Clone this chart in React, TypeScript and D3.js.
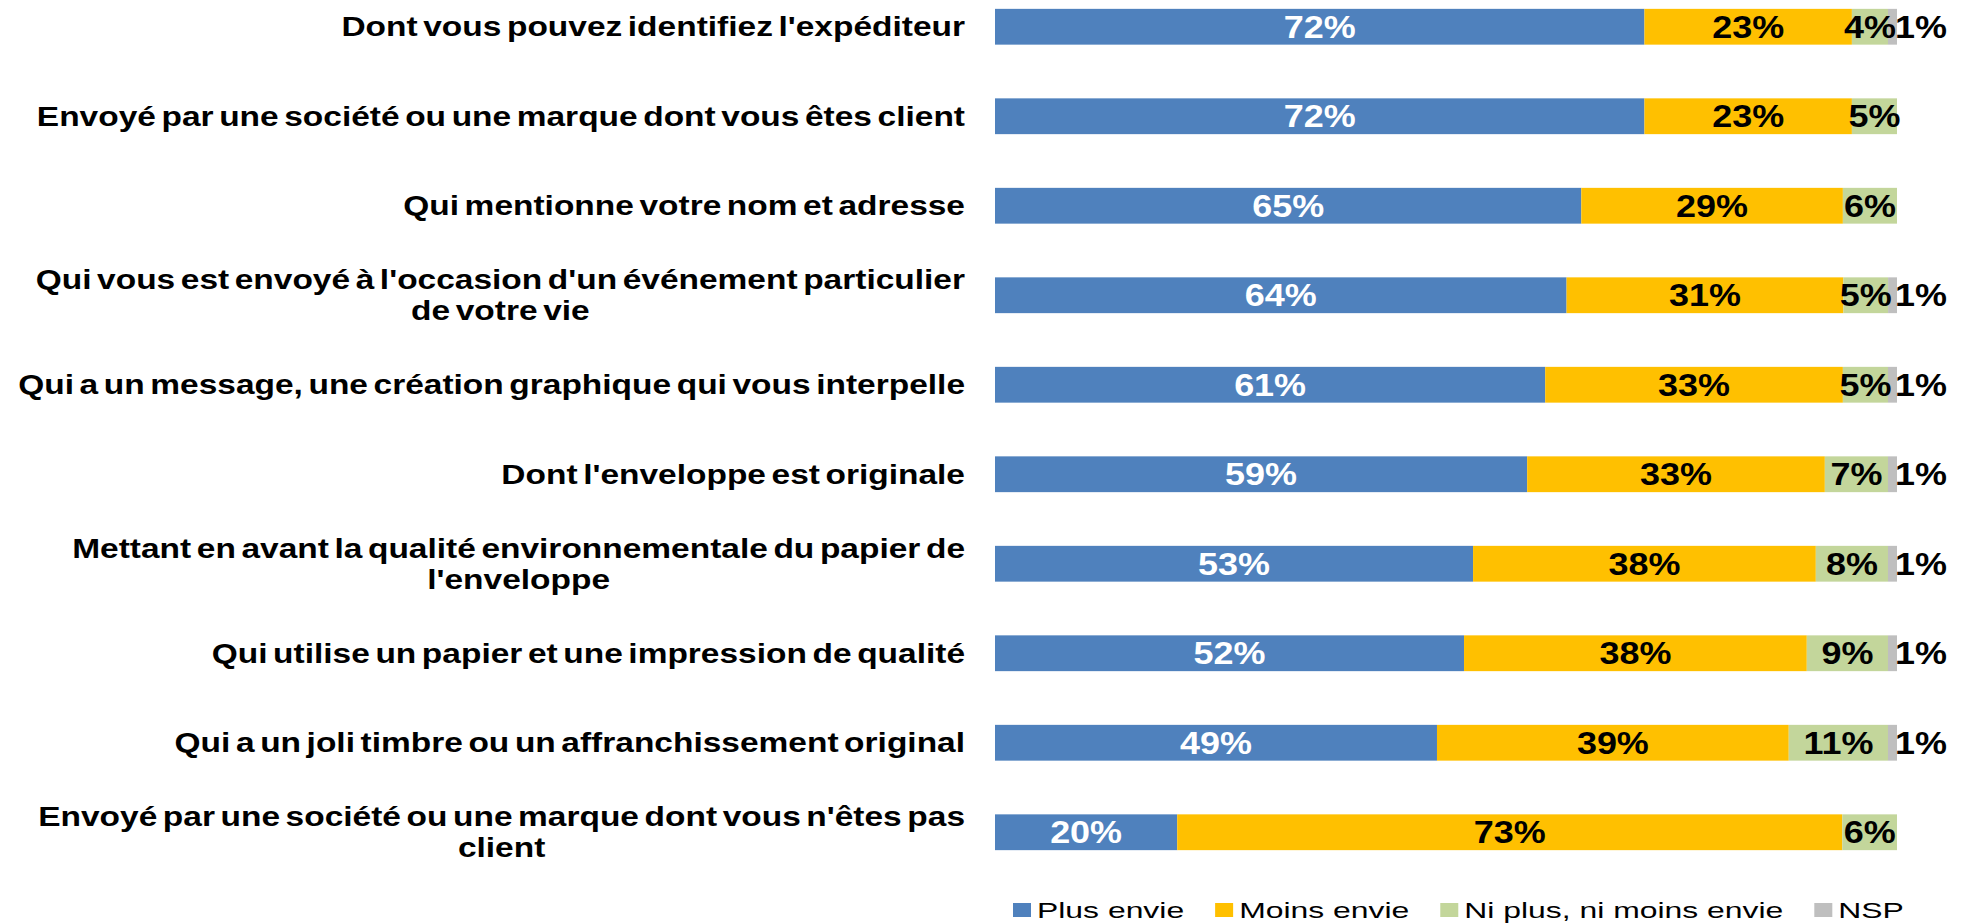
import React, { useEffect, useRef } from 'react'
import * as d3 from 'd3'

const width = 1966
const height = 924

const categories = [
  "Dont vous pouvez identifiez l'expéditeur",
  'Envoyé par une société ou une marque dont vous êtes client',
  'Qui mentionne votre nom et adresse',
  "Qui vous est envoyé à l'occasion d'un événement particulier\nde votre vie",
  'Qui a un message, une création graphique qui vous interpelle',
  "Dont l'enveloppe est originale",
  "Mettant en avant la qualité environnementale du papier de\nl'enveloppe",
  'Qui utilise un papier et une impression de qualité',
  'Qui a un joli timbre ou un affranchissement original',
  "Envoyé par une société ou une marque dont vous n'êtes pas\nclient",
]

const seriesNames = ['Plus envie', 'Moins envie', 'Ni plus, ni moins envie', 'NSP']
const plusEnvie = [72, 72, 65, 64, 61, 59, 53, 52, 49, 20]
const moinsEnvie = [23, 23, 29, 31, 33, 33, 38, 38, 39, 73]
const niPlusNiMoins = [4, 5, 6, 5, 5, 7, 8, 9, 11, 6]
const nsp = [1, 0, 0, 1, 1, 1, 1, 1, 1, 0]

const colors = ['#4F81BD', '#FFC000', '#C3D69B', '#BFBFBF']
const labelColors = ['#fff', '#000', '#000', '#000']

const font = "'Liberation Sans', Arial, sans-serif"

// the source picture is stretched sideways, so text gets a horizontal scale
const catFont = 27
const catScale = 1.24
const valFont = 31
const valScale = 1.16
const legFont = 22
const legScale = 1.45

export default function App() {
  const svgRef = useRef<SVGSVGElement>(null)

  useEffect(() => {
    document.body.style.margin = '0'
    const svg = d3.select(svgRef.current)
    svg.selectAll('*').remove()

    const rows = categories.map((c, i) => ({
      category: c,
      'Plus envie': plusEnvie[i],
      'Moins envie': moinsEnvie[i],
      'Ni plus, ni moins envie': niPlusNiMoins[i],
      NSP: nsp[i],
    }))

    const stack = d3
      .stack<any>()
      .keys(seriesNames)
      .offset(d3.stackOffsetExpand)
    const series = stack(rows)

    const x = d3.scaleLinear().domain([0, 1]).range([995, 1897])
    const y = d3
      .scaleBand<string>()
      .domain(categories)
      .range([-18, 877])
      .paddingInner(0.6)
      .paddingOuter(0.3)

    // bars
    const layers = svg
      .append('g')
      .selectAll('g')
      .data(series)
      .join('g')
      .attr('fill', (d, i) => colors[i])

    layers
      .selectAll('rect')
      .data((d) => d.filter((s) => s[1] - s[0] > 0))
      .join('rect')
      .attr('x', (d) => x(d[0]))
      .attr('y', (d) => y(d.data.category)!)
      .attr('width', (d) => x(d[1]) - x(d[0]))
      .attr('height', y.bandwidth())

    // value labels
    const labels = svg.append('g').attr('font-family', font).attr('font-weight', 'bold')
    series.forEach((s, si) => {
      s.forEach((d) => {
        const v = d.data[seriesNames[si]]
        if (!v) return
        const cy = y(d.data.category)! + y.bandwidth() / 2
        const isNsp = seriesNames[si] === 'NSP'
        const cx = isNsp ? x(1) - 2 : (x(d[0]) + x(d[1])) / 2
        labels
          .append('text')
          .attr('transform', `translate(${cx},${cy}) scale(${valScale},1)`)
          .attr('dy', '0.36em')
          .attr('text-anchor', isNsp ? 'start' : 'middle')
          .attr('font-size', valFont)
          .attr('fill', labelColors[si])
          .text(`${v}%`)
      })
    })

    // category labels
    const cats = svg.append('g').attr('font-family', font).attr('font-weight', 'bold')
    const right = 965
    categories.forEach((c) => {
      const lines = c.split('\n')
      const cy = y(c)! + y.bandwidth() / 2
      if (lines.length === 1) {
        cats
          .append('text')
          .attr('transform', `translate(${right},${cy}) scale(${catScale},1)`)
          .attr('dy', '0.36em')
          .attr('text-anchor', 'end')
          .attr('font-size', catFont)
          .attr('word-spacing', -3)
          .text(lines[0])
        return
      }
      const first = cats
        .append('text')
        .attr('transform', `translate(${right},${cy - 15.5}) scale(${catScale},1)`)
        .attr('dy', '0.36em')
        .attr('text-anchor', 'end')
        .attr('font-size', catFont)
        .attr('word-spacing', -3)
        .text(lines[0])
      const w = (first.node()?.getComputedTextLength() || 0) * catScale
      cats
        .append('text')
        .attr('transform', `translate(${right - w / 2},${cy + 15.5}) scale(${catScale},1)`)
        .attr('dy', '0.36em')
        .attr('text-anchor', 'middle')
        .attr('font-size', catFont)
        .attr('word-spacing', -3)
        .text(lines[1])
    })

    // legend
    const legend = svg.append('g').attr('font-family', font)
    let lx = 1013
    const ly = 910
    seriesNames.forEach((name, i) => {
      legend
        .append('rect')
        .attr('x', lx)
        .attr('y', ly - 7)
        .attr('width', 18)
        .attr('height', 14)
        .attr('fill', colors[i])
      const t = legend
        .append('text')
        .attr('transform', `translate(${lx + 24},${ly}) scale(${legScale},1)`)
        .attr('dy', '0.36em')
        .attr('font-size', legFont)
        .attr('fill', '#000')
        .text(name)
      const tw = (t.node()?.getComputedTextLength() || 0) * legScale
      lx += 24 + tw + 31
    })
  }, [])

  return (
    <svg
      ref={svgRef}
      width={width}
      height={height}
      style={{ display: 'block', background: '#fff' }}
    />
  )
}
